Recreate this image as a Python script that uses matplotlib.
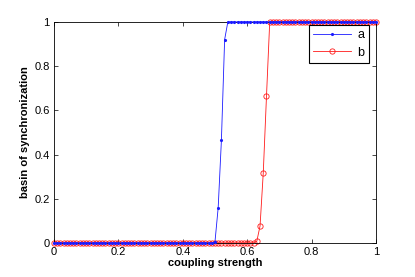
import matplotlib
matplotlib.use("Agg")
import matplotlib.pyplot as plt
from matplotlib.ticker import FuncFormatter

# —————— data (coupling strength sampled every 0.01) ——————
coupling = [round(i * 0.01, 2) for i in range(101)]

basin_a = [
    0, 0, 0, 0, 0, 0, 0, 0, 0, 0,
    0, 0, 0, 0, 0, 0, 0, 0, 0, 0,
    0, 0, 0, 0, 0, 0, 0, 0, 0, 0,
    0, 0, 0, 0, 0, 0, 0, 0, 0, 0,
    0, 0, 0, 0, 0, 0, 0, 0, 0, 0,
    0.005, 0.16, 0.465, 0.92, 1, 1, 1, 1, 1, 1,
    1, 1, 1, 1, 1, 1, 1, 1, 1, 1,
    1, 1, 1, 1, 1, 1, 1, 1, 1, 1,
    1, 1, 1, 1, 1, 1, 1, 1, 1, 1,
    1, 1, 1, 1, 1, 1, 1, 1, 1, 1,
    1,
]

basin_b = [
    0, 0, 0, 0, 0, 0, 0, 0, 0, 0,
    0, 0, 0, 0, 0, 0, 0, 0, 0, 0,
    0, 0, 0, 0, 0, 0, 0, 0, 0, 0,
    0, 0, 0, 0, 0, 0, 0, 0, 0, 0,
    0, 0, 0, 0, 0, 0, 0, 0, 0, 0,
    0, 0, 0, 0, 0, 0, 0, 0, 0, 0,
    0, 0, 0, 0.008, 0.077, 0.318, 0.665, 1, 1, 1,
    1, 1, 1, 1, 1, 1, 1, 1, 1, 1,
    1, 1, 1, 1, 1, 1, 1, 1, 1, 1,
    1, 1, 1, 1, 1, 1, 1, 1, 1, 1,
    1,
]

xticks = [0, 0.2, 0.4, 0.6, 0.8, 1]
yticks = [0, 0.2, 0.4, 0.6, 0.8, 1]

# —————— plot ——————
plt.rcParams['font.family'] = ['Liberation Sans', 'DejaVu Sans']

fig = plt.figure(figsize=(4.15, 2.77), dpi=100)
ax = fig.add_axes([0.130, 0.123, 0.776, 0.798])

ax.plot(coupling, basin_a, color='#1a1aff', lw=0.6, marker='.', ms=2.5,
        label='a', clip_on=False, zorder=3)
ax.plot(coupling, basin_b, color='#ff1a1a', lw=0.6, marker='o', ms=3.8,
        mfc='none', mew=0.6, label='b', clip_on=False, zorder=2)

ax.set_xlim(0, 1)
ax.set_ylim(0, 1)
ax.set_xticks(xticks)
ax.set_yticks(yticks)
fmt = FuncFormatter(lambda v, _: f"{v:g}")
ax.xaxis.set_major_formatter(fmt)
ax.yaxis.set_major_formatter(fmt)
ax.tick_params(direction='in', length=3, width=0.5, labelsize=8,
               top=True, right=True, pad=3)
for s in ax.spines.values():
    s.set_linewidth(0.6)

ax.set_xlabel('coupling strength', fontsize=8, fontweight='bold', labelpad=1)
ax.set_ylabel('basin of synchronization', fontsize=8, fontweight='bold',
              labelpad=3)

leg = ax.legend(loc='upper right', bbox_to_anchor=(0.977, 0.988),
                borderaxespad=0, fontsize=9, fancybox=False,
                edgecolor='black', framealpha=1,
                handlelength=3.0, handletextpad=0.5, borderpad=0.35,
                labelspacing=0.45)
leg.get_frame().set_linewidth(0.8)

fig.savefig('out.png', dpi=100)
